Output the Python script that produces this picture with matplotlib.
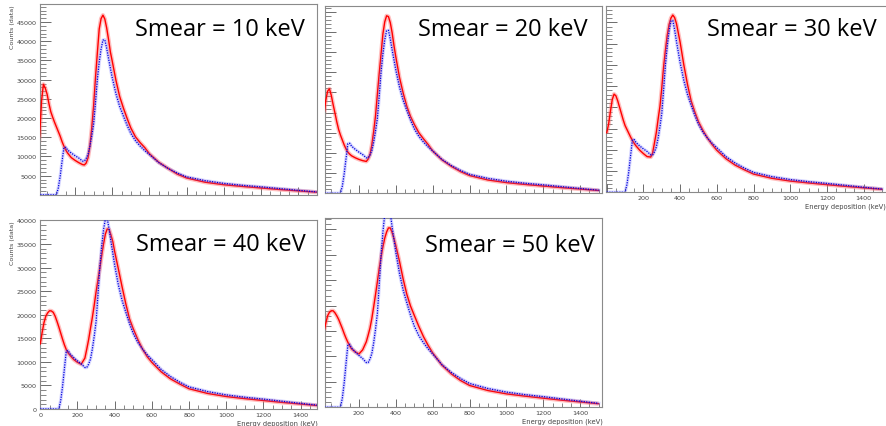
import matplotlib
matplotlib.use("Agg")
import matplotlib.pyplot as plt
from matplotlib.ticker import MultipleLocator, FixedLocator, NullFormatter

# ---------------- data ----------------
energy = [0, 10, 20, 30, 40, 50, 60, 70, 80, 90, 100, 110, 120, 130, 140, 150, 160,
          180, 200, 220, 240, 250, 260, 270, 280, 290, 300, 310, 320, 330, 340, 350,
          360, 370, 380, 390, 400, 420, 440, 460, 480, 500, 525, 550, 575, 600, 650,
          700, 750, 800, 900, 1000, 1100, 1200, 1300, 1400, 1500]

data_counts = [0, 0, 0, 0, 0, 0, 0, 0, 0, 0, 0, 1800, 4800, 8600, 12300, 12400, 11700,
               10900, 10200, 9600, 8800, 8800, 9500, 10600, 12700, 15400, 18500, 24000, 30000, 34500, 38000, 40300,
               40400, 38200, 35500, 33000, 30500, 26300, 23000, 20500, 18100, 16000, 14100, 12700, 11500, 10500, 8400,
               6900, 5700, 4700, 3700, 3000, 2500, 2100, 1650, 1200, 780]

sim_10 = [10000, 15500, 24500, 28800, 27800, 26200, 23700, 21600, 20200, 18900, 17700, 16500, 15300, 13900, 12700, 11700, 10900,
          9700, 9000, 8400, 7900, 7800, 8300, 9700, 12800, 17500, 23200, 30500, 37000, 43200, 45900, 46800,
          45800, 43500, 40500, 37200, 34800, 29800, 25600, 22600, 19900, 17400, 15100, 13600, 12300, 10700, 8500,
          6900, 5400, 4400, 3300, 2650, 2200, 1800, 1400, 1050, 700]

sim_20 = [14000, 19000, 23000, 25300, 25900, 24300, 22000, 19900, 17700, 15800, 14400, 13200, 12000, 11000, 10200, 9700, 9300,
          8800, 8400, 8100, 7900, 8500, 9600, 12000, 15300, 19200, 24500, 29700, 34500, 39500, 42500, 44000,
          43800, 42300, 39800, 36600, 33800, 28700, 24800, 21500, 19000, 17100, 15000, 13500, 12100, 10500, 8300,
          6700, 5400, 4400, 3300, 2650, 2200, 1800, 1400, 1050, 700]

sim_30 = [14000, 16000, 19000, 21800, 23100, 22700, 21500, 20000, 18500, 17000, 15700, 14800, 13900, 13000, 12200, 11500, 10900,
          9900, 9100, 8400, 8300, 9200, 11600, 14000, 17200, 20200, 24500, 29500, 33500, 37000, 39500, 41000,
          41700, 41100, 39700, 37500, 35300, 30000, 25400, 21500, 18900, 16600, 14500, 12700, 11200, 9900, 7900,
          6400, 5300, 4300, 3300, 2650, 2200, 1800, 1400, 1050, 700]

sim_40 = [13800, 16200, 18300, 19700, 20400, 20850, 20800, 20500, 19700, 18600, 17400, 16100, 14800, 13600, 12600, 11900, 11400,
          10500, 9900, 9500, 10800, 12700, 14700, 17100, 19400, 22000, 24800, 27300, 29800, 32500, 35000, 37100,
          38200, 38100, 36900, 35500, 33400, 29700, 25900, 22300, 19100, 17000, 14700, 12700, 11100, 9900, 7900,
          6400, 5300, 4300, 3300, 2650, 2200, 1800, 1400, 1050, 700]

sim_50 = [13000, 14800, 16500, 18000, 18700, 19000, 19000, 18600, 18000, 17300, 16400, 15500, 14500, 13600, 12800, 12100, 11500,
          10900, 10500, 11300, 12900, 14200, 15600, 17500, 19800, 22200, 24700, 27300, 29600, 31600, 33300, 34500,
          35300, 35300, 34400, 33200, 31800, 28700, 25200, 22200, 19900, 18100, 15900, 13900, 12200, 10700, 8300,
          6600, 5300, 4300, 3300, 2650, 2200, 1800, 1400, 1050, 700]

titles = ["Smear = 10 keV", "Smear = 20 keV", "Smear = 30 keV", "Smear = 40 keV", "Smear = 50 keV"]
sims = [sim_10, sim_20, sim_30, sim_40, sim_50]
y_tick_labels = ["0", "5000", "10000", "15000", "20000", "25000", "30000", "35000", "40000", "45000"]
x_tick_labels = ["0", "200", "400", "600", "800", "1000", "1200", "1400"]
y_label = "Counts (data)"
x_label = "Energy deposition (keV)"

# ---------------- layout (pixels) ----------------
W, H = 886, 427
fig = plt.figure(figsize=(W / 100, H / 100), dpi=100)
fig.patch.set_facecolor("white")

# left, right, top, bottom (px), xlim, ymax, show y labels, x labels shown, title pos (right x, baseline y)
panels = [
    dict(box=(39.5, 316.7, 5.0, 195.9), xlim=(9, 1499), ymax=49700, ylab=True, xlab=None, tpos=(305, 36)),
    dict(box=(325.0, 602.0, 6.7, 194.3), xlim=(16, 1518), ymax=46500, ylab=False, xlab=None, tpos=(588, 36)),
    dict(box=(606.0, 886.0, 6.7, 193.3), xlim=(-4, 1522), ymax=43900, ylab=False, xlab="skip0", tpos=(877, 36)),
    dict(box=(39.5, 316.7, 221.0, 410.0), xlim=(-4, 1486), ymax=40100, ylab=True, xlab="all", tpos=(306, 251)),
    dict(box=(325.0, 602.0, 219.3, 408.3), xlim=(16, 1518), ymax=37200, ylab=False, xlab="skip0", tpos=(595, 252.5)),
]

tick_col = "#555555"
lab_col = "#444444"

for i, p in enumerate(panels):
    l, r, t, b = p["box"]
    ax = fig.add_axes([l / W, 1 - b / H, (r - l) / W, (b - t) / H])
    ax.set_xlim(*p["xlim"])
    ax.set_ylim(0, p["ymax"])
    sim = sims[i]
    # simulation (red histogram with light band)
    ax.plot(energy, sim, color="#ff7070", lw=3.0, alpha=0.45, solid_capstyle="butt", zorder=2)
    ax.plot(energy, sim, color="#ff0000", lw=1.0, zorder=3)
    # data (blue points)
    ax.plot(energy, data_counts, color="#6a6aff", lw=2.4, alpha=0.28, zorder=4)
    ax.plot(energy, data_counts, color="#0000dd", lw=0.9, linestyle=(0, (1, 1)), zorder=5)

    for s in ax.spines.values():
        s.set_color("#8a8a8a")
        s.set_linewidth(0.8)
    if i == 2:
        ax.spines["right"].set_visible(False)

    ax.xaxis.set_major_locator(MultipleLocator(200))
    ax.xaxis.set_minor_locator(MultipleLocator(50))
    ax.yaxis.set_major_locator(MultipleLocator(5000))
    ax.yaxis.set_minor_locator(MultipleLocator(1000))
    ax.tick_params(which="major", direction="in", length=5.5, width=0.6, colors=tick_col,
                   labelsize=4.6, labelcolor=lab_col, pad=2, top=False, right=False)
    ax.tick_params(which="minor", direction="in", length=2.8, width=0.5, colors=tick_col,
                   top=False, right=False)
    ax.tick_params(axis="y", which="major", length=8)
    ax.tick_params(axis="y", which="minor", length=4)

    if p["ylab"]:
        nmax = int(p["ymax"] // 5000)
        ticks = [k * 5000 for k in range(nmax + 1)]
        labs = y_tick_labels[: nmax + 1]
        if i == 0:
            labs = [""] + labs[1:]
        ax.yaxis.set_major_locator(FixedLocator(ticks))
        ax.set_yticklabels(labs)
        fig.text(13 / W, 1 - t / H, y_label, rotation=90, ha="center", va="top",
                 fontsize=4.6, color=lab_col)
    else:
        ax.yaxis.set_major_formatter(NullFormatter())

    if p["xlab"] is None:
        ax.xaxis.set_major_formatter(NullFormatter())
    else:
        xt = [k * 200 for k in range(8)]
        labs = list(x_tick_labels)
        if p["xlab"] == "skip0":
            labs[0] = ""
        ax.xaxis.set_major_locator(FixedLocator(xt))
        ax.set_xticklabels(labs)
        fig.text(min(r + 1.3, W - 0.5) / W, 1 - (b + 13.5) / H, x_label, ha="right", va="center",
                 fontsize=4.9, color=lab_col)

    tx, ty = p["tpos"]
    fig.text(tx / W, 1 - ty / H, titles[i], ha="right", va="baseline",
             fontsize=17, family="Open Sans", color="black", zorder=10)

fig.savefig("out.png", dpi=100, facecolor="white")
